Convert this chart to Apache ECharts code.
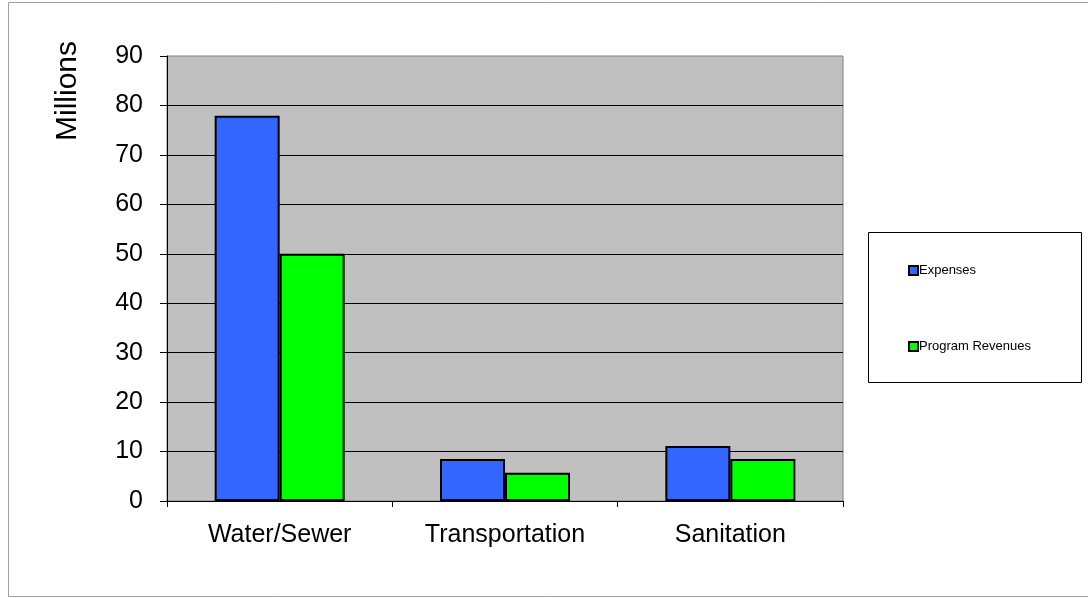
<!DOCTYPE html>
<html>
<head>
<meta charset="utf-8">
<script src="https://cdn.jsdelivr.net/npm/echarts@6/dist/echarts.min.js"></script>
<style>
  html, body { margin: 0; padding: 0; background: #fff; }
  #main { width: 1088px; height: 598px; }
</style>
</head>
<body>
<div id="main"></div>
<script>
// data
const categories = ['Water/Sewer', 'Transportation', 'Sanitation'];
const expenses = [77.9, 8.5, 11.1];
const programRevenues = [50, 5.7, 8.5];
const yTicks = [0, 10, 20, 30, 40, 50, 60, 70, 80, 90];

const chart = echarts.init(document.getElementById('main'));

chart.setOption({
    animation: false,
    backgroundColor: '#fff',
    textStyle: { fontFamily: 'Liberation Sans, Arial, sans-serif' },
    grid: {
        left: 167, top: 56, width: 676, height: 445,
        show: true,
        backgroundColor: '#c0c0c0',
        borderColor: '#808080',
        borderWidth: 1
    },
    legend: {
        orient: 'vertical',
        left: 903, top: 259,
        itemGap: 63,
        itemWidth: 9, itemHeight: 9,
        icon: 'rect',
        textStyle: { fontSize: 13, color: '#000', padding: [0, 0, 0, -4] },
        data: ['Expenses', 'Program Revenues']
    },
    xAxis: {
        type: 'category',
        data: categories,
        axisLine: { lineStyle: { color: '#000', width: 1 } },
        axisTick: { show: true, length: 6, lineStyle: { color: '#000' } },
        axisLabel: { fontSize: 25, color: '#000', margin: 22 }
    },
    yAxis: {
        type: 'value',
        min: yTicks[0],
        max: yTicks[yTicks.length - 1],
        interval: 10,
        axisLine: { show: true, lineStyle: { color: '#000', width: 1 } },
        axisTick: { show: true, length: 7, lineStyle: { color: '#000' } },
        axisLabel: { fontSize: 25, color: '#000', margin: 24 },
        splitLine: { showMaxLine: false, lineStyle: { color: '#000', width: 1 } }
    },
    series: [
        {
            name: 'Expenses',
            type: 'bar',
            data: expenses,
            barWidth: 65,
            barGap: '0%',
            itemStyle: { color: '#3366ff', borderColor: '#000', borderWidth: 2 }
        },
        {
            name: 'Program Revenues',
            type: 'bar',
            data: programRevenues,
            barWidth: 65,
            barGap: '0%',
            itemStyle: { color: '#00ff00', borderColor: '#000', borderWidth: 2 }
        }
    ],
    graphic: [
        {
            type: 'rect',
            shape: { x: 8.5, y: 2.5, width: 1100, height: 594 },
            style: { fill: null, stroke: '#a0a0a0', lineWidth: 1 },
            z: -10
        },
        {
            type: 'rect',
            shape: { x: 868.5, y: 232.5, width: 213, height: 150 },
            style: { fill: '#fff', stroke: '#000', lineWidth: 1 },
            z: -5
        },
        {
            type: 'text',
            x: 68, y: 91,
            rotation: Math.PI / 2,
            style: {
                text: 'Millions',
                fontSize: 30,
                fontFamily: 'Liberation Sans, Arial, sans-serif',
                fill: '#000',
                align: 'center',
                verticalAlign: 'middle'
            }
        }
    ]
});
</script>
</body>
</html>
